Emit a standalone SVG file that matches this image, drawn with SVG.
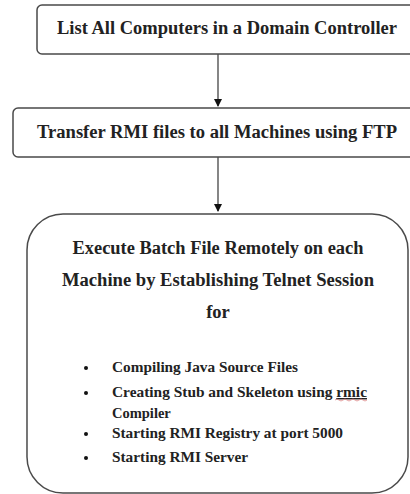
<svg xmlns="http://www.w3.org/2000/svg" width="410" height="494" viewBox="0 0 410 494">
<style>
.box{fill:#fff;stroke:#4a4a4a;stroke-width:1.5}
text{font-family:'Liberation Serif','Times New Roman',serif;font-weight:bold;fill:#222}
.h{font-size:18.5px;text-anchor:middle}
.b{font-size:14.5px}
.con{stroke:#444;stroke-width:1.3;fill:none}
</style>
<defs>
<marker id="ah" markerWidth="8" markerHeight="8" refX="7" refY="4" orient="auto" markerUnits="userSpaceOnUse">
<path d="M0,0 L8,4 L0,8 Z" fill="#111"/>
</marker>
</defs>
<rect width="410" height="494" fill="#fff"/>
<g id="connectors">
<line class="con" x1="218" y1="54" x2="218" y2="106" marker-end="url(#ah)"/>
<line class="con" x1="218" y1="157" x2="218" y2="211" marker-end="url(#ah)"/>
</g>
<g id="node1">
<rect class="box" x="37" y="5" width="390" height="49" rx="5"/>
<text class="h" x="227" y="34" textLength="340" lengthAdjust="spacingAndGlyphs">List All Computers in a Domain Controller</text>
</g>
<g id="node2">
<rect class="box" x="13" y="108" width="410" height="49" rx="5"/>
<text class="h" x="217" y="138" textLength="360" lengthAdjust="spacingAndGlyphs">Transfer RMI files to all Machines using FTP</text>
</g>
<g id="node3">
<rect class="box" x="27" y="214" width="381" height="279" rx="36"/>
<text class="h" x="218" y="254" textLength="291" lengthAdjust="spacingAndGlyphs">Execute Batch File Remotely on each</text>
<text class="h" x="218" y="286" textLength="312" lengthAdjust="spacingAndGlyphs">Machine by Establishing Telnet Session</text>
<text class="h" x="218" y="318">for</text>
<circle cx="86" cy="368" r="2" fill="#111"/>
<text class="b" x="112" y="372" textLength="186" lengthAdjust="spacingAndGlyphs">Compiling Java Source Files</text>
<circle cx="86" cy="393" r="2" fill="#111"/>
<text class="b" x="112" y="397" textLength="255" lengthAdjust="spacingAndGlyphs">Creating Stub and Skeleton using <tspan text-decoration="underline">rmic</tspan></text>
<path d="M335,400 q2,-2 4,0 t4,0 t4,0 t4,0 t4,0 t4,0 t4,0 t4,0" stroke="#d88" stroke-width="0.8" fill="none"/>
<text class="b" x="112" y="418">Compiler</text>
<circle cx="86" cy="434" r="2" fill="#111"/>
<text class="b" x="112" y="438" textLength="231" lengthAdjust="spacingAndGlyphs">Starting RMI Registry at port 5000</text>
<circle cx="86" cy="458" r="2" fill="#111"/>
<text class="b" x="112" y="462" textLength="136" lengthAdjust="spacingAndGlyphs">Starting RMI Server</text>
</g>
</svg>
